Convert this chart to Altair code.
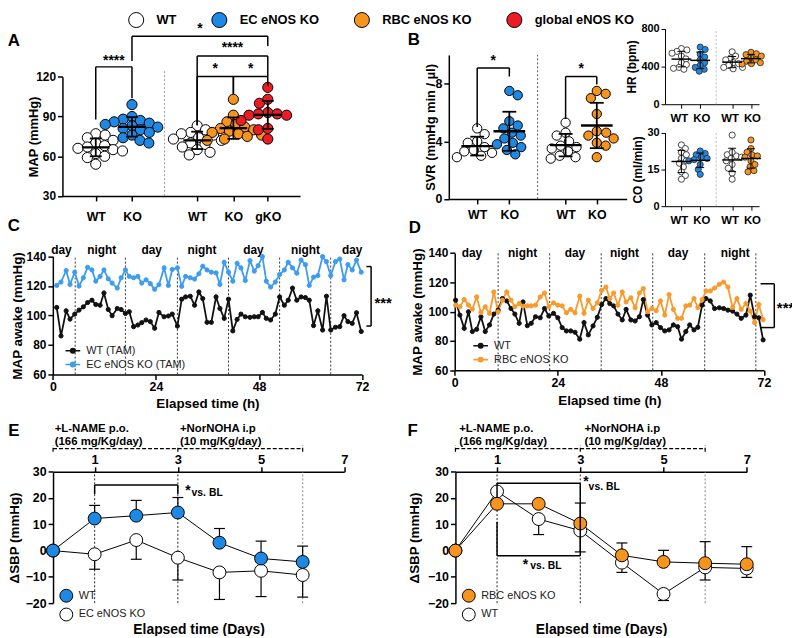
import altair as alt
import pandas as pd

FONT = "Liberation Sans"
M = 8            # page margin
W, H = 792, 628  # drawing size

# ================= values =================
GENOS = ["WT", "EC eNOS KO", "RBC eNOS KO", "global eNOS KO"]
GENO_FILL = ["#ffffff", "#1e88e5", "#f7941d", "#ed1c24"]

# Panel A : MAP (mmHg)
A_TICKS = ["WT", "KO", "WT", "KO", "gKO"]
A_GENO = ["WT", "EC eNOS KO", "WT", "RBC eNOS KO", "global eNOS KO"]
A_WT_EC = [77, 76, 74, 72, 70, 68, 67, 66, 65, 64, 62, 60, 59, 54]
A_EC_KO = [99, 90, 88, 87, 86, 85, 84, 83, 82, 81, 80, 78, 76, 74, 72, 70]
A_WT_RBC = [83, 80, 78, 77, 76, 74, 73, 72, 70, 69, 67, 65, 63, 61]
A_RBC_KO = [103, 91, 86, 84, 82, 81, 80, 79, 78, 77, 76, 75, 73, 72]
A_GKO = [112, 103, 100, 93, 92, 92, 91, 91, 87, 81, 80, 73]
# (left group, right group, bar level, left end, right end, label, label level)
A_SIG = [(0, 1, 127.5, 87.8, 103.8, "****", 132.0),
         (1, 4, 150.7, 132.0, 143.2, "*", 156.0),
         (2, 4, 135.7, 83.5, 120.2, "****", 141.5),
         (2, 3, 120.2, 83.5, 107.0, "*", 125.5),
         (3, 4, 120.2, 107.0, 113.0, "*", 125.5)]

# Panel B : SVR, HR, CO
SMALL_TICKS = ["WT", "KO", "WT", "KO"]
SMALL_GENO = ["WT", "EC eNOS KO", "WT", "RBC eNOS KO"]
B_WT_EC = [4.9, 4.5, 4.0, 3.9, 3.6, 3.4, 3.2, 3.0, 2.9, 3.3]
B_EC_KO = [7.5, 7.2, 5.4, 5.1, 4.9, 4.6, 4.4, 4.2, 3.9, 3.6, 3.4, 3.1, 3.8]
B_WT_RBC = [5.3, 4.6, 4.4, 4.0, 3.7, 3.5, 3.3, 3.0, 2.8, 2.9, 3.6]
B_RBC_KO = [7.5, 7.3, 7.0, 5.9, 4.7, 4.4, 4.2, 3.9, 3.7, 2.9, 4.6]
B_SIG = [(0, 1, 9.1, 5.0, 8.5, "*", 9.65),
         (2, 3, 8.5, 5.55, 7.95, "*", 9.1)]
HR_WT_EC = [590, 575, 560, 540, 510, 480, 440, 420, 390, 370, 380]
HR_EC_KO = [605, 580, 530, 500, 470, 440, 410, 390, 370, 350]
HR_WT_RBC = [555, 510, 490, 470, 440, 430, 410, 390, 375, 390]
HR_RBC_KO = [550, 535, 525, 510, 490, 470, 455, 440, 425, 430]
CO_WT_EC = [25, 23.5, 22, 21, 19.5, 18.5, 17.5, 16, 14, 12.5, 11]
CO_EC_KO = [22.5, 21.5, 21, 20, 19.5, 19, 18.5, 17, 15, 13]
CO_WT_RBC = [29, 21, 20.5, 19.5, 18.5, 17, 15.5, 13.5, 11, 22, 20]
CO_RBC_KO = [27, 23.5, 22, 21, 20.5, 20, 18.5, 17, 16, 14, 14.5]

# Panel C : telemetry, EC eNOS KO
C_NAMES = ["WT (TAM)", "EC eNOS KO (TAM)"]
C_HOURS = [0.9, 1.9, 3.1, 4.0, 5.1, 6.1, 7.1, 8.1, 9.1, 10.0, 11.0, 11.9, 12.9, 13.8, 15.0,
           15.9, 16.9, 17.8, 18.8, 19.8, 20.7, 21.7, 22.7, 23.7, 24.7, 25.9, 26.9, 27.8, 29.0,
           30.0, 30.9, 32.0, 33.0, 34.0, 34.9, 35.9, 36.9, 38.0, 38.9, 39.9, 40.9, 41.9, 42.9,
           43.8, 44.8, 45.9, 46.9, 47.8, 48.8, 49.7, 50.7, 51.8, 52.8, 53.9, 54.8, 55.8, 56.8,
           57.8, 58.8, 59.7, 60.7, 61.7, 62.8, 63.7, 64.7, 65.8, 66.8, 67.8, 68.7, 69.7, 70.7, 71.8]
C_WT = [105.4, 86.1, 103.1, 97.5, 100.9, 103.6, 105.8, 108.7, 110.3, 107.4, 106.9, 115.2, 104.0,
        99.8, 104.7, 104.0, 101.3, 102.5, 92.4, 93.5, 95.1, 96.9, 95.8, 91.3, 102.0, 99.1, 99.6,
        100.9, 92.8, 111.0, 112.5, 113.0, 106.9, 115.9, 111.4, 95.3, 95.3, 112.5, 104.7, 98.0,
        111.0, 89.5, 97.3, 100.9, 99.1, 98.7, 99.1, 99.1, 102.0, 98.0, 96.9, 100.9, 112.5, 106.9,
        110.3, 118.5, 110.3, 112.5, 112.1, 110.3, 93.1, 103.1, 90.1, 113.0, 90.1, 92.0, 92.4,
        99.8, 95.8, 94.6, 101.8, 89.1]
C_KO = [120.3, 122.6, 130.4, 121.0, 129.3, 119.9, 125.5, 132.6, 130.8, 123.2, 126.4, 130.8, 124.8,
        121.9, 118.5, 125.5, 130.8, 126.4, 125.5, 126.4, 121.9, 124.1, 121.5, 117.7, 120.8, 132.2,
        120.3, 131.1, 132.2, 119.7, 126.4, 125.5, 124.6, 128.2, 133.3, 130.8, 129.3, 128.8, 121.0,
        136.0, 129.3, 123.2, 135.3, 132.2, 123.7, 137.1, 130.0, 133.7, 139.8, 123.2, 119.2, 122.6,
        127.7, 130.8, 136.0, 132.2, 128.6, 137.5, 134.4, 120.3, 125.9, 127.0, 139.8, 136.4, 127.0,
        136.4, 138.2, 124.1, 134.4, 130.8, 137.5, 129.3]
C_PHASE_H = [2, 11.4, 23, 34.7, 46.7, 58.8, 69.7]
C_PHASE = ["day", "night", "day", "night", "day", "night", "day"]
C_PHASE_LEVEL = 144
C_DIVIDERS = [5.2, 16.9, 29.0, 40.9, 52.8, 64.7]
C_SIG = (73.0, 74.1, 92.8, 133.1, "***", 74.9, 111.0)

# Panel D : telemetry, RBC eNOS KO
D_NAMES = ["WT", "RBC eNOS KO"]
D_HOURS = [0.2, 1.2, 2.2, 3.2, 4.1, 5.1, 6.1, 7.1, 8.1, 9.1, 10.1, 11.1, 12.1, 13.1, 14.0, 15.0,
           15.9, 16.9, 17.8, 18.8, 19.9, 20.9, 21.9, 23.0, 24.0, 25.0, 26.0, 27.0, 28.0, 29.1,
           30.1, 31.1, 32.2, 33.2, 34.2, 35.2, 36.1, 37.0, 38.0, 39.0, 39.9, 41.0, 42.0, 43.0,
           43.9, 44.9, 45.9, 46.9, 47.9, 48.9, 49.9, 50.9, 51.9, 52.8, 53.8, 54.7, 55.7, 56.6,
           57.6, 58.5, 59.5, 60.5, 61.6, 62.6, 63.6, 64.7, 65.7, 66.7, 67.8, 68.8, 69.8, 70.8, 71.8]
D_WT = [107.8, 97.6, 88.6, 99.9, 86.4, 87.9, 96.5, 86.4, 90.9, 98.3, 101.0, 108.9, 107.3, 102.1,
        98.3, 92.0, 106.6, 90.4, 92.0, 96.5, 95.8, 102.1, 97.0, 98.8, 95.8, 89.1, 86.8, 86.8, 85.9,
        81.2, 92.5, 84.1, 90.2, 96.1, 104.8, 108.9, 105.5, 103.9, 98.3, 94.3, 101.5, 94.3, 93.6,
        96.5, 108.2, 97.6, 90.9, 92.5, 89.1, 86.8, 87.5, 90.9, 89.7, 81.2, 86.4, 90.9, 87.5, 89.3,
        104.4, 108.9, 107.3, 102.1, 102.6, 102.1, 101.0, 100.3, 98.3, 95.4, 97.6, 111.2, 96.5,
        95.8, 80.7]
D_KO = [104.4, 103.3, 108.2, 104.4, 101.7, 110.0, 99.4, 103.3, 98.8, 113.4, 99.9, 107.8, 113.4,
        107.8, 103.3, 105.5, 103.7, 103.9, 103.9, 104.4, 110.0, 112.7, 103.3, 106.0, 104.4, 103.9,
        99.2, 101.5, 99.2, 110.5, 98.8, 107.8, 102.1, 106.0, 114.5, 116.8, 108.9, 112.7, 104.4,
        113.4, 106.6, 109.4, 102.6, 112.7, 115.7, 99.9, 102.1, 100.6, 107.3, 97.6, 111.6, 101.5,
        95.4, 95.4, 103.9, 104.4, 108.9, 102.8, 108.2, 114.1, 114.1, 116.1, 118.6, 120.2, 116.8,
        102.8, 108.9, 101.5, 105.5, 100.3, 92.5, 104.8, 94.5]
D_PHASE_H = [4.0, 15.8, 28.0, 39.5, 52.0, 65.3]
D_PHASE = ["day", "night", "day", "night", "day", "night"]
D_PHASE_LEVEL = 140
D_DIVIDERS = [10.1, 22.1, 34.1, 46.1, 58.2, 70.1]
D_SIG = (71.2, 74.4, 89.1, 119.0, "***", 75.0, 105.0)

# Panels E / F : delta SBP (mmHg) over days
E_DAYS = [0, 1, 2, 3, 4, 5, 6]
E_WT = [0, 12.2, 13.3, 14.5, 3.0, -3.0, -4.3]
E_WT_SEM = [0, 5.0, 5.8, 5.7, 5.4, 6.6, 6.0]
E_KO = [0, -1.4, 4.0, -2.7, -8.3, -7.7, -9.3]
E_KO_SEM = [0, 5.7, 7.3, 8.5, 10.3, 9.8, 8.4]
E_LEGEND = ["WT", "EC eNOS KO"]
F_DAYS = [0, 1, 2, 3, 4, 5, 6, 7]
F_KO = [0, 17.8, 17.8, 10.3, -1.8, -4.3, -4.8, -5.2]
F_KO_SEM = [0, 0, 0, 7.8, 4.7, 4.4, 8.2, 6.7]
F_WT = [0, 22.5, 12.0, 7.6, -4.6, -16.5, -6.4, -6.8]
F_WT_SEM = [0, 0, 5.9, 8.1, 3.7, 2.5, 4.8, 3.4]
F_LEGEND = ["RBC eNOS KO", "WT"]
TL_LEVEL = 38.8
TL_TICKS = [0, 3, 6]
TL_TEXT = ["+L-NAME p.o.", "(166 mg/Kg/day)", "+NorNOHA i.p", "(10 mg/Kg/day)"]
TL_TEXT_DAY = [0.04, 0.04, 3.05, 3.05]
TL_TEXT_LEVEL = [46.3, 41.5, 46.3, 41.5]
E_SIG_SEG = [(1, 25.0, 3, 25.0), (1, 21.5, 1, 25.0), (3, 21.5, 3, 25.0)]
E_SIG_TXT = [("*", 3.18, 24.3, 14), ("vs. BL", 3.33, 22.0, 10.5)]
F_SIG_SEG = [(1, 25.6, 3, 25.6), (1, 20.0, 1, 25.6), (3, 10.3, 3, 25.6),
             (1, -2.0, 3, -2.0), (1, -2.0, 1, 11.0), (3, -2.0, 3, 10.3)]
F_SIG_TXT = [("*", 3.07, 27.5, 14), ("vs. BL", 3.2, 24.2, 10.5),
             ("*", 1.62, -3.9, 14), ("vs. BL", 1.8, -5.8, 10.5)]

LETTERS = ["A", "B", "C", "D", "E", "F"]

# ================= layout (page pixels) =================
PAN = {
    "A": dict(xd=(0.08, 6.64), xp=(63, 303), yd=(30, 120), yp=(194.7, 74.3)),
    "B": dict(xd=(0.117, 5.65), xp=(453.3, 633), yd=(0, 10), yp=(197.7, 52.2)),
    "HR": dict(xd=(0.126, 5.13), xp=(671.7, 766.7), yd=(0, 800), yp=(102, 25.7)),
    "CO": dict(xd=(0.126, 5.13), xp=(671.7, 766.7), yd=(0, 30), yp=(205, 130.7)),
    "C": dict(xd=(0, 72), xp=(53.3, 365.7), yd=(60, 140), yp=(375, 255.7)),
    "D": dict(xd=(0, 72), xp=(459.3, 771.7), yd=(60, 140), yp=(370.7, 252.3)),
    "E": dict(xd=(0, 7), xp=(53.5, 347.7), yd=(-20, 30), yp=(606, 473.3)),
    "F": dict(xd=(0, 7), xp=(460, 754.3), yd=(-20, 30), yp=(606, 473.3)),
}
POS = {"A": [1, 2, 3.8, 4.8, 5.75], "B": [1, 2, 3.75, 4.72],
       "HR": [1, 2, 3.7, 4.7], "CO": [1, 2, 3.7, 4.7]}
SEP = {"A": (2.9, 30, 125, "#9a9a9a"), "B": (2.88, 0, 10, "#555555"),
       "HR": (2.85, 0, 800, "#bbbbbb"), "CO": (2.85, 0, 30, "#bbbbbb")}
LETTER_XY = [(14, 38), (418, 37.5), (14, 225), (419, 226.7), (14, 431.7), (416.7, 431.7)]


def ppx(p):
    P = PAN[p]
    return (P["xp"][1] - P["xp"][0]) / (P["xd"][1] - P["xd"][0])


def ppy(p):
    P = PAN[p]
    return (P["yp"][0] - P["yp"][1]) / (P["yd"][1] - P["yd"][0])


def X(p, f, axis=None):
    P = PAN[p]
    sc = alt.Scale(domain=list(P["xd"]), range=[P["xp"][0] - M, P["xp"][1] - M], nice=False, zero=False)
    return alt.X(f, type="quantitative", scale=sc, axis=axis)


def Y(p, f, axis=None):
    P = PAN[p]
    sc = alt.Scale(domain=list(P["yd"]), range=[P["yp"][0] - M, P["yp"][1] - M], nice=False, zero=False)
    return alt.Y(f, type="quantitative", scale=sc, axis=axis)


def ax_left(p, values, title, lfs=12, tfs=13, lpad=2, tpad=3, w=1.5, tick=5):
    return alt.Axis(orient="left", offset=-(PAN[p]["xp"][0] - M), values=values, title=title,
                    labelFontSize=lfs, titleFontSize=tfs, labelPadding=lpad, titlePadding=tpad,
                    domainWidth=w, tickWidth=w, tickSize=tick)


def ax_bottom(p, values, title="", lfs=13, tfs=13, lpad=2, tpad=3, w=1.5, tick=5, expr=None,
              show=True, loff=None):
    kw = dict(orient="bottom", offset=(PAN[p]["yp"][0] - M) - H, title=title, values=values,
              labelFontSize=lfs, titleFontSize=tfs, labelPadding=lpad, titlePadding=tpad,
              domainWidth=w, tickWidth=w, tickSize=tick, labels=show, ticks=show, domain=show)
    if expr is not None:
        kw["labelExpr"] = expr
    if loff is not None:
        kw["labelOffset"] = loff
    return alt.Axis(**kw)


def cat_expr(p, labels):
    parts = [f"abs(datum.value - {x}) < 0.01 ? '{t}'" for x, t in zip(POS[p], labels)]
    return " : ".join(parts) + " : ''"


def pair_offset(p, left, right):
    wt = " || ".join(f"abs(datum.value - {x}) < 0.01" for x in POS[p][0::2])
    return {"condition": {"test": wt, "value": left}, "value": right}


def swarm(vals, p, diam, overlap):
    py, px = ppy(p), ppx(p)
    dmin = diam * overlap
    order = sorted(range(len(vals)), key=lambda i: -vals[i])
    placed, off = [], [0.0] * len(vals)
    for n, i in enumerate(order):
        y = vals[i] * py
        k, got = 0, None
        while got is None:
            cands = [0.0] if k == 0 else ([k * 0.5, -k * 0.5] if n % 2 else [-k * 0.5, k * 0.5])
            for s in cands:
                if all((s - qx) ** 2 + (y - qy) ** 2 >= dmin ** 2 for qy, qx in placed):
                    got = s
                    break
            k += 1
        placed.append((y, got))
        off[i] = got / px
    return off


def seg_layer(p, segs, color="black", width=1.5, dash=None):
    df = pd.DataFrame(segs, columns=["x", "y", "x2", "y2"])
    mk = dict(color=color, strokeWidth=width)
    if dash is not None:
        mk["strokeDash"] = dash
    return alt.Chart(df).mark_rule(**mk).encode(
        x=X(p, "x"), y=Y(p, "y"), x2=alt.X2("x2"), y2=alt.Y2("y2"))


def txt_layer(p, rows, size=14, align="center", dy=0, weight="bold"):
    df = pd.DataFrame(rows, columns=["t", "x", "y"])
    return alt.Chart(df).mark_text(font=FONT, fontSize=size, fontWeight=weight, align=align,
                                   baseline="middle", dy=dy, color="black").encode(
        x=X(p, "x"), y=Y(p, "y"), text=alt.Text("t:N"))


def scatter_panel(p, groups, genos, diam, overlap, sw, stroke, mean_px, cap_px, lw,
                  xaxis, yaxis, sig=None, star_size=14, star_dy=0, legend=None):
    rows = []
    for g, (vals, geno) in enumerate(zip(groups, genos)):
        offs = swarm(vals, p, diam, overlap)
        for v, o in zip(vals, offs):
            rows.append(dict(g=g, pos=POS[p][g], geno=geno, v=v, xj=POS[p][g] + o))
    df = pd.DataFrame(rows)
    out = []
    sx_, y0, y1, sc = SEP[p]
    out.append(seg_layer(p, [(sx_, y0, sx_, y1)], color=sc, width=1, dash=[2, 2]))
    fill = alt.Fill("geno:N", scale=alt.Scale(domain=GENOS, range=GENO_FILL), legend=legend)
    out.append(alt.Chart(df).mark_point(filled=True, size=3.1416 * (diam / 2) ** 2, opacity=1,
                                        stroke=stroke, strokeWidth=sw, shape="circle").encode(
        x=X(p, "xj", xaxis), y=Y(p, "v", yaxis), fill=fill))
    mw, cw = mean_px / ppx(p), cap_px / ppx(p)
    st = alt.Chart(df).transform_aggregate(m="mean(v)", s="stdev(v)", groupby=["pos"]).transform_calculate(
        lo="datum.m - datum.s", hi="datum.m + datum.s",
        ml=f"datum.pos - {mw}", mr=f"datum.pos + {mw}",
        cl=f"datum.pos - {cw}", cr=f"datum.pos + {cw}")
    out.append(st.mark_rule(color="black", strokeWidth=lw).encode(
        x=X(p, "pos"), y=Y(p, "lo"), y2=alt.Y2("hi")))
    out.append(st.transform_fold(["lo", "hi"], as_=["k", "cv"]).mark_rule(
        color="black", strokeWidth=lw).encode(x=X(p, "cl"), x2=alt.X2("cr"), y=Y(p, "cv")))
    out.append(st.mark_rule(color="black", strokeWidth=lw + 0.5).encode(
        x=X(p, "ml"), x2=alt.X2("mr"), y=Y(p, "m")))
    if sig:
        segs, txts = [], []
        for a, b, top, ea, eb, lab, ly in sig:
            xa, xb = POS[p][a], POS[p][b]
            segs += [(xa, top, xb, top), (xa, ea, xa, top), (xb, eb, xb, top)]
            txts.append((lab, (xa + xb) / 2, ly))
        out.append(seg_layer(p, segs, width=1.5))
        out.append(txt_layer(p, txts, size=star_size, dy=star_dy))
    return out


LINE_SYMBOL = "M-1.35,0H1.35M-0.4,0A0.4,0.4,0,1,1,0.4,0A0.4,0.4,0,1,1,-0.4,0Z"


def ts_panel(p, hours, series, names, colors, phase_h, phase, phase_level, dividers, sig,
             legxy, ytitle_pad, xlab_pad, xtitle_pad):
    out = []
    P = PAN[p]
    out.append(seg_layer(p, [(d, P["yd"][0], d, P["yd"][1]) for d in dividers],
                         color="#333333", width=1, dash=[2, 2]))
    out.append(txt_layer(p, list(zip(phase, phase_h, [phase_level] * len(phase))), size=12))
    rows = []
    for name, vals in zip(names, series):
        for h, v in zip(hours, vals):
            rows.append(dict(h=h, v=v, s=name))
    df = pd.DataFrame(rows)
    sc = alt.Scale(domain=names, range=colors)
    out.append(alt.Chart(df).mark_line(strokeWidth=1.8).encode(
        x=X(p, "h"), y=Y(p, "v"), stroke=alt.Stroke("s:N", scale=sc, legend=None),
        detail="s:N"))
    leg = alt.Legend(orient="none", legendX=legxy[0], legendY=legxy[1], title=None,
                     symbolType=LINE_SYMBOL, symbolSize=121, symbolStrokeWidth=1.6,
                     labelFontSize=11, labelFontWeight="normal", labelColor="#222222",
                     labelFont=FONT, labelOffset=7, rowPadding=2, padding=0, direction="vertical")
    out.append(alt.Chart(df).mark_point(filled=True, size=18, opacity=1, strokeWidth=1,
                                        shape="circle").encode(
        x=X(p, "h", ax_bottom(p, [0, 24, 48, 72], "Elapsed time (h)", lfs=12.5, tfs=13.5,
                              lpad=xlab_pad, tpad=xtitle_pad)),
        y=Y(p, "v", ax_left(p, [60, 80, 100, 120, 140], "MAP awake (mmHg)", lfs=12, tfs=13.5,
                            tpad=ytitle_pad)),
        fill=alt.Fill("s:N", scale=sc, legend=leg),
        stroke=alt.Stroke("s:N", scale=sc, legend=leg)))
    x0, x1, ylo, yhi, lab, lx, ly = sig
    out.append(seg_layer(p, [(x1, ylo, x1, yhi), (x0, ylo, x1, ylo), (x0, yhi, x1, yhi)], width=1.5))
    out.append(txt_layer(p, [(lab, lx, ly)], size=15, align="left", dy=4))
    return out


def sbp_panel(p, days, series, legend_order, sig_seg, sig_txt, legxy, tl_shift, ytpad):
    out = []
    out.append(seg_layer(p, [(d, -20, d, 30) for d in (1, 3)], color="#222222", width=1, dash=[2, 2]))
    out.append(seg_layer(p, [(6, -20, 6, 30)], color="#999999", width=1.2, dash=[2, 2]))
    tl = [(TL_TICKS[0], TL_LEVEL, TL_TICKS[-1], TL_LEVEL)]
    tl += [(t, TL_LEVEL - 1.2, t, TL_LEVEL + 1.2) for t in TL_TICKS]
    out.append(seg_layer(p, tl, width=1.2, dash=[4, 2]))
    out.append(txt_layer(p, [(t, d + tl_shift, l) for t, d, l in zip(TL_TEXT, TL_TEXT_DAY, TL_TEXT_LEVEL)],
                         size=11.5, align="left"))
    rows, erows = [], []
    for name, vals, sem, sign, fill in series:
        for d, v, e in zip(days, vals, sem):
            rows.append(dict(d=d, v=v, s=name))
            if e > 0:
                erows.append(dict(d=d, m=v, e=v + sign * e))
    df = pd.DataFrame(rows)
    edf = pd.DataFrame(erows)
    cw = 5.5 / ppx(p)
    eb = alt.Chart(edf).transform_calculate(cl=f"datum.d - {cw}", cr=f"datum.d + {cw}")
    out.append(eb.mark_rule(color="black", strokeWidth=1.2).encode(
        x=X(p, "d"), y=Y(p, "m"), y2=alt.Y2("e")))
    out.append(eb.mark_rule(color="black", strokeWidth=1.2).encode(
        x=X(p, "cl"), x2=alt.X2("cr"), y=Y(p, "e")))
    out.append(alt.Chart(df).mark_line(color="black", strokeWidth=1).encode(
        x=X(p, "d", ax_bottom(p, [0], "Elapsed time (Days)", tfs=14, tpad=20, show=False)),
        y=Y(p, "v"), detail="s:N"))
    fill_of = {s[0]: s[4] for s in series}
    leg = alt.Legend(orient="none", legendX=legxy[0], legendY=legxy[1], title=None,
                     symbolType="circle", symbolSize=170, symbolStrokeColor="black",
                     symbolStrokeWidth=1, labelFontSize=11, labelFontWeight="normal",
                     labelColor="#222222", labelFont=FONT, labelOffset=5, rowPadding=0,
                     padding=0, direction="vertical")
    top_axis = alt.Axis(orient="top", offset=-(PAN[p]["yp"][1] - M), values=[1, 3, 5, 7], title="",
                        labelFontSize=13, labelPadding=0, domainWidth=1.5, tickWidth=1.5, tickSize=5)
    out.append(alt.Chart(df).mark_point(filled=True, size=170, opacity=1, stroke="black",
                                        strokeWidth=1, shape="circle").encode(
        x=X(p, "d", top_axis),
        y=Y(p, "v", ax_left(p, [-20, -10, 0, 10, 20, 30], "ΔSBP (mmHg)", lfs=12.5, tfs=13.5, tpad=ytpad)),
        fill=alt.Fill("s:N", scale=alt.Scale(domain=legend_order,
                                              range=[fill_of[n] for n in legend_order]), legend=leg)))
    out.append(seg_layer(p, sig_seg, width=1.5))
    big = [(t, x, y) for t, x, y, s in sig_txt if s > 12]
    small = [(t, x, y) for t, x, y, s in sig_txt if s <= 12]
    out.append(txt_layer(p, big, size=14, align="left", dy=4))
    out.append(txt_layer(p, small, size=10.5, align="left"))
    return out


layers = []

# ---- Panel A ----
top_legend = alt.Legend(orient="none", legendX=121, legendY=0, title=None, direction="horizontal",
                        columns=4, symbolType="circle", symbolSize=230, symbolStrokeColor="black",
                        symbolStrokeWidth=1, labelFontSize=13, labelFontWeight="bold",
                        labelFont=FONT, labelColor="black", labelOffset=12, columnPadding=32,
                        padding=0)
layers += scatter_panel(
    "A", [A_WT_EC, A_EC_KO, A_WT_RBC, A_RBC_KO, A_GKO], A_GENO, diam=11.6, overlap=0.8,
    sw=1, stroke="black", mean_px=14, cap_px=6, lw=1.8,
    xaxis=ax_bottom("A", POS["A"], "", lfs=12.5, lpad=10, expr=cat_expr("A", A_TICKS)),
    yaxis=ax_left("A", [30, 60, 90, 120], "MAP (mmHg)", lfs=12, tfs=13, tpad=-5),
    sig=A_SIG, star_dy=0, legend=top_legend)

# ---- Panel B ----
layers += scatter_panel(
    "B", [B_WT_EC, B_EC_KO, B_WT_RBC, B_RBC_KO], SMALL_GENO, diam=10.6, overlap=0.88,
    sw=1, stroke="black", mean_px=16, cap_px=7, lw=1.8,
    xaxis=ax_bottom("B", POS["B"], "", lfs=12.5, lpad=5, expr=cat_expr("B", SMALL_TICKS)),
    yaxis=ax_left("B", [0, 4, 8], "SVR (mmHg min / µl)", lfs=12.5, tfs=13, tpad=-3),
    sig=B_SIG, star_dy=1)

# ---- HR / CO ----
layers += scatter_panel(
    "HR", [HR_WT_EC, HR_EC_KO, HR_WT_RBC, HR_RBC_KO], SMALL_GENO, diam=7, overlap=0.75,
    sw=0.9, stroke="#333333", mean_px=10, cap_px=4, lw=1,
    xaxis=ax_bottom("HR", POS["HR"], "", lfs=11.5, lpad=4, w=1, tick=4,
                    expr=cat_expr("HR", SMALL_TICKS), loff=pair_offset("HR", -2.5, 1)),
    yaxis=ax_left("HR", [0, 400, 800], "HR (bpm)", lfs=11, tfs=12, w=1, tick=4, tpad=2))
layers += scatter_panel(
    "CO", [CO_WT_EC, CO_EC_KO, CO_WT_RBC, CO_RBC_KO], SMALL_GENO, diam=7, overlap=0.75,
    sw=0.9, stroke="#333333", mean_px=10, cap_px=4, lw=1,
    xaxis=ax_bottom("CO", POS["CO"], "", lfs=11.5, lpad=4, w=1, tick=4,
                    expr=cat_expr("CO", SMALL_TICKS), loff=pair_offset("CO", -2.5, 1)),
    yaxis=ax_left("CO", [0, 15, 30], "CO (ml/min)", lfs=11, tfs=12, w=1, tick=4, tpad=2))

# ---- Panel C / D ----
layers += ts_panel("C", C_HOURS, [C_WT, C_KO], C_NAMES, ["#111111", "#3d9cf0"],
                   C_PHASE_H, C_PHASE, C_PHASE_LEVEL, C_DIVIDERS, C_SIG,
                   legxy=(59, 336.5), ytitle_pad=2, xlab_pad=1, xtitle_pad=4)
layers += ts_panel("D", D_HOURS, [D_WT, D_KO], D_NAMES, ["#111111", "#f99a2c"],
                   D_PHASE_H, D_PHASE, D_PHASE_LEVEL, D_DIVIDERS, D_SIG,
                   legxy=(471, 331.5), ytitle_pad=4, xlab_pad=1.5, xtitle_pad=5)

# ---- Panel E / F ----
layers += sbp_panel("E", E_DAYS,
                    [("EC eNOS KO", E_KO, E_KO_SEM, -1, "#ffffff"),
                     ("WT", E_WT, E_WT_SEM, 1, "#1e88e5")], E_LEGEND,
                    E_SIG_SEG, E_SIG_TXT, legxy=(51.4, 583), tl_shift=0, ytpad=4)
layers += sbp_panel("F", F_DAYS,
                    [("WT", F_WT, F_WT_SEM, -1, "#ffffff"),
                     ("RBC eNOS KO", F_KO, F_KO_SEM, 1, "#f7941d")], F_LEGEND,
                    F_SIG_SEG, F_SIG_TXT, legxy=(458, 583), tl_shift=0.05, ytpad=6)

# ---- panel letters ----
ldf = pd.DataFrame({"t": LETTERS, "px": [x - M for x, _ in LETTER_XY], "py": [y - M for _, y in LETTER_XY]})
layers.append(alt.Chart(ldf).mark_text(font=FONT, fontSize=17, fontWeight="bold", color="black",
                                       align="center", baseline="middle").encode(
    x=alt.X("px:Q", scale=None, axis=None), y=alt.Y("py:Q", scale=None, axis=None),
    text=alt.Text("t:N")))

chart = alt.layer(*layers).resolve_scale(
    x="independent", y="independent", fill="independent", stroke="independent"
).properties(
    width=W, height=H, padding=0, autosize=alt.AutoSizeParams(type="none")
).configure_view(strokeWidth=0).configure_axis(
    grid=False, labelFont=FONT, titleFont=FONT, labelFontWeight="bold", titleFontWeight="bold",
    labelColor="black", titleColor="black", domainColor="black", tickColor="black",
    labelFlush=False, labelOverlap=False, labelBound=False
).configure_text(font=FONT)

chart.save("out.html", embed_options={"renderer": "svg", "actions": False})
